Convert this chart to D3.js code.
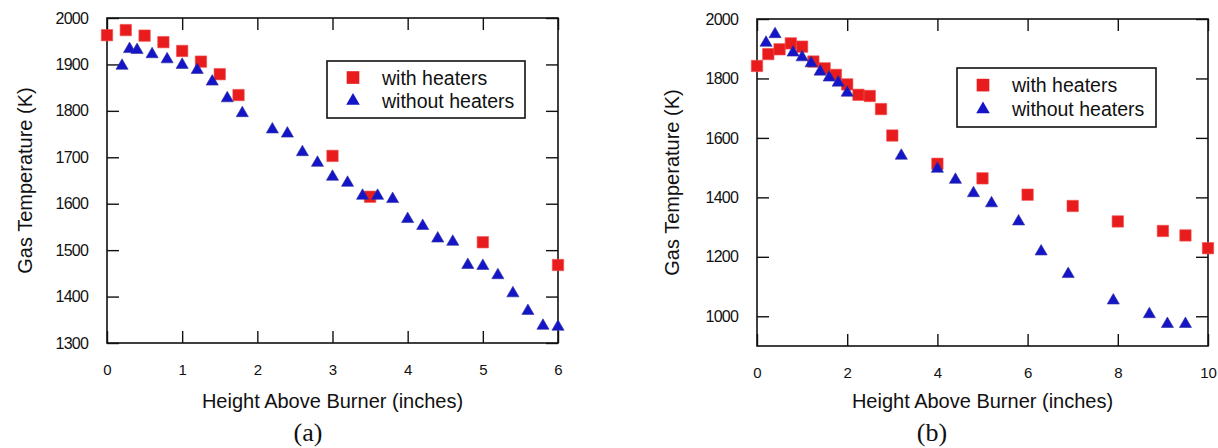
<!DOCTYPE html>
<html>
<head>
<meta charset="utf-8">
<script src="https://cdn.jsdelivr.net/npm/d3@7/dist/d3.min.js"></script>
<style>
  html, body { margin: 0; padding: 0; background: #fff; }
  svg { display: block; font-family: "Liberation Sans", Arial, sans-serif; }
</style>
</head>
<body>
<svg id="chart" width="1218" height="448"></svg>
<script>
// ---------- Data: panel (a) ----------
const heightA_with    = [0, 0.25, 0.5, 0.75, 1.0, 1.25, 1.5, 1.75, 3.0, 3.5, 5.0, 6.0];
const tempA_with      = [1963, 1974, 1962, 1948, 1929, 1906, 1879, 1834, 1703, 1615, 1517, 1468];
const heightA_without = [0.2, 0.3, 0.4, 0.6, 0.8, 1.0, 1.2, 1.4, 1.6, 1.8, 2.2, 2.4, 2.6, 2.8, 3.0, 3.2, 3.4, 3.6, 3.8, 4.0, 4.2, 4.4, 4.6, 4.8, 5.0, 5.2, 5.4, 5.6, 5.8, 6.0];
const tempA_without   = [1897, 1933, 1931, 1922, 1911, 1899, 1888, 1863, 1827, 1795, 1760, 1751, 1711, 1688, 1658, 1645, 1617, 1617, 1610, 1567, 1552, 1525, 1518, 1468, 1466, 1446, 1407, 1369, 1337, 1335];
const xTicksA = [0, 1, 2, 3, 4, 5, 6];
const yTicksA = [1300, 1400, 1500, 1600, 1700, 1800, 1900, 2000];

// ---------- Data: panel (b) ----------
const heightB_with    = [0, 0.25, 0.5, 0.75, 1.0, 1.25, 1.5, 1.75, 2.0, 2.25, 2.5, 2.75, 3.0, 4.0, 5.0, 6.0, 7.0, 8.0, 9.0, 9.5, 10.0];
const tempB_with      = [1842, 1882, 1898, 1918, 1907, 1857, 1834, 1812, 1780, 1745, 1741, 1697, 1608, 1513, 1464, 1409, 1371, 1319, 1287, 1272, 1229];
const heightB_without = [0.2, 0.4, 0.8, 1.0, 1.2, 1.4, 1.6, 1.8, 2.0, 3.2, 4.0, 4.4, 4.8, 5.2, 5.8, 6.3, 6.9, 7.9, 8.7, 9.1, 9.5];
const tempB_without   = [1920, 1949, 1887, 1871, 1851, 1823, 1803, 1786, 1752, 1540, 1496, 1459, 1414, 1380, 1319, 1218, 1142, 1053, 1007, 974, 974];
const xTicksB = [0, 2, 4, 6, 8, 10];
const yTicksB = [1000, 1200, 1400, 1600, 1800, 2000];

const seriesNames = ["with heaters", "without heaters"];
const xTitle = "Height Above Burner (inches)";
const yTitle = "Gas Temperature (K)";

const RED = "#e81c1c";
const BLUE = "#1515c8";

const svg = d3.select("#chart");

const squareSym = d3.symbol().type(d3.symbolSquare).size(130);
const triSym = d3.symbol().type(d3.symbolTriangle).size(64);

function panel(cfg) {
  const x = d3.scaleLinear().domain(cfg.xDomain).range([cfg.left, cfg.right]);
  const y = d3.scaleLinear().domain(cfg.yDomain).range([cfg.bottom, cfg.top]);
  const g = svg.append("g");
  const T = 12;

  // bottom axis (labels)
  const bx = g.append("g").attr("transform", `translate(0,${cfg.bottom})`)
    .call(d3.axisBottom(x).tickValues(cfg.xTicks).tickSizeInner(-T).tickSizeOuter(0).tickPadding(T + 9).tickFormat(d3.format("d")));
  // top axis
  const tx = g.append("g").attr("transform", `translate(0,${cfg.top})`)
    .call(d3.axisTop(x).tickValues(cfg.xTicks).tickSizeInner(-T).tickSizeOuter(0).tickFormat(""));
  // left axis (labels)
  const ly = g.append("g").attr("transform", `translate(${cfg.left},0)`)
    .call(d3.axisLeft(y).tickValues(cfg.yTicks).tickSizeInner(-T).tickSizeOuter(0).tickPadding(T + 7).tickFormat(d3.format("d")));
  // right axis
  const ry = g.append("g").attr("transform", `translate(${cfg.right},0)`)
    .call(d3.axisRight(y).tickValues(cfg.yTicks).tickSizeInner(-T).tickSizeOuter(0).tickFormat(""));

  [bx, tx, ly, ry].forEach(a => {
    a.select(".domain").remove();
    a.selectAll(".tick line").attr("stroke", "#111").attr("stroke-width", 1.4);
  });
  bx.selectAll(".tick text").attr("font-size", 15).attr("fill", "#111").attr("font-family", "Liberation Sans, Arial, sans-serif");
  ly.selectAll(".tick text").attr("font-size", 16).attr("fill", "#111").attr("letter-spacing", -0.8)
    .attr("font-family", "Liberation Sans, Arial, sans-serif");

  // frame
  g.append("rect").attr("x", cfg.left).attr("y", cfg.top)
    .attr("width", cfg.right - cfg.left).attr("height", cfg.bottom - cfg.top)
    .attr("fill", "none").attr("stroke", "#111").attr("stroke-width", 1.6);

  // points: with heaters (squares)
  g.append("g").selectAll("path").data(cfg.hWith.map((h, i) => [h, cfg.tWith[i]]))
    .join("path").attr("d", squareSym)
    .attr("transform", d => `translate(${x(d[0])},${y(d[1])})`)
    .attr("fill", RED).attr("stroke", "#f05050").attr("stroke-width", 0.6);
  // points: without heaters (triangles)
  g.append("g").selectAll("path").data(cfg.hWithout.map((h, i) => [h, cfg.tWithout[i]]))
    .join("path").attr("d", triSym)
    .attr("transform", d => `translate(${x(d[0])},${y(d[1])})`)
    .attr("fill", BLUE).attr("stroke", "#3030a0").attr("stroke-width", 0.6);

  // legend
  const lg = g.append("g").attr("transform", `translate(${cfg.legX},${cfg.legY})`);
  lg.append("rect").attr("x", 0).attr("y", 0).attr("width", cfg.legW).attr("height", cfg.legH)
    .attr("fill", "#fff").attr("stroke", "#111").attr("stroke-width", 1.6);
  lg.append("path").attr("d", d3.symbol().type(d3.symbolSquare).size(160)())
    .attr("transform", `translate(26,${cfg.legH * 0.29})`).attr("fill", RED);
  lg.append("path").attr("d", d3.symbol().type(d3.symbolTriangle).size(80)())
    .attr("transform", `translate(26,${cfg.legH * 0.7})`).attr("fill", BLUE);
  lg.append("text").attr("x", 55).attr("y", cfg.legH * 0.29 + 7).attr("font-size", 19.5).attr("fill", "#111").text(seriesNames[0]);
  lg.append("text").attr("x", 55).attr("y", cfg.legH * 0.7 + 7).attr("font-size", 19.5).attr("fill", "#111").text(seriesNames[1]);

  // axis titles
  g.append("text").attr("x", (cfg.left + cfg.right) / 2).attr("y", 408)
    .attr("text-anchor", "middle").attr("font-size", 20).attr("fill", "#111").text(xTitle);
  g.append("text").attr("transform", `translate(${cfg.yTitleX},${(cfg.top + cfg.bottom) / 2}) rotate(-90)`)
    .attr("text-anchor", "middle").attr("font-size", 20).attr("fill", "#111").text(yTitle);

  // panel label
  g.append("text").attr("x", cfg.labelX).attr("y", 441)
    .attr("text-anchor", "middle").attr("font-size", 26)
    .attr("font-family", "Liberation Serif, Times New Roman, serif").attr("fill", "#111").text(cfg.label);
}

panel({
  xDomain: [0, 6], yDomain: [1300, 2000],
  left: 107, right: 558, top: 18, bottom: 343,
  xTicks: xTicksA, yTicks: yTicksA,
  hWith: heightA_with, tWith: tempA_with, hWithout: heightA_without, tWithout: tempA_without,
  legX: 327, legY: 61, legW: 198, legH: 57,
  yTitleX: 32, labelX: 308, label: "(a)"
});

panel({
  xDomain: [0, 10], yDomain: [900, 2000],
  left: 757, right: 1208, top: 19, bottom: 346,
  xTicks: xTicksB, yTicks: yTicksB,
  hWith: heightB_with, tWith: tempB_with, hWithout: heightB_without, tWithout: tempB_without,
  legX: 957, legY: 68, legW: 199, legH: 59,
  yTitleX: 679, labelX: 932, label: "(b)"
});
</script>
</body>
</html>
